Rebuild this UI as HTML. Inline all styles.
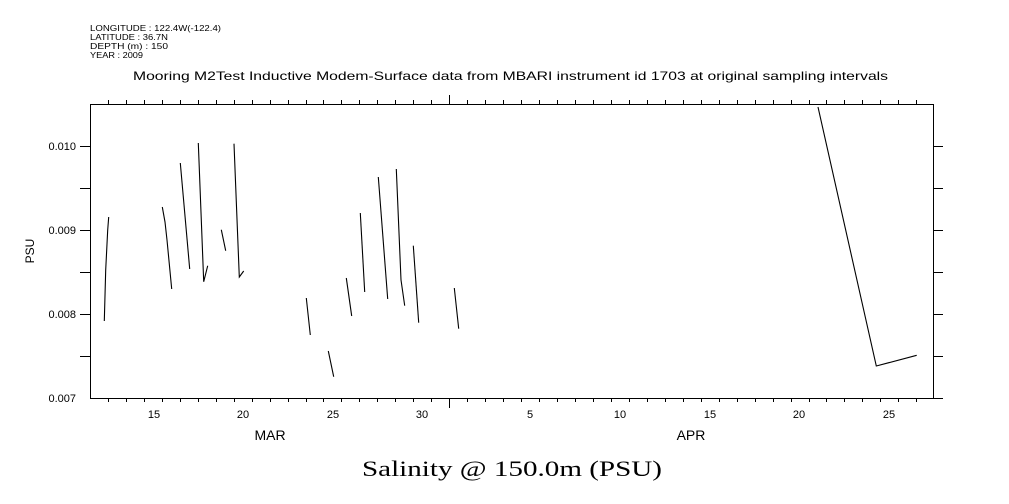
<!DOCTYPE html>
<html><head><meta charset="utf-8"><style>
html,body{margin:0;padding:0;background:#fff;}
svg{display:block;}
text{font-family:"Liberation Sans",sans-serif;fill:#000;}
</style></head><body>
<svg width="1009" height="504" viewBox="0 0 1009 504" xmlns="http://www.w3.org/2000/svg">
<g font-size="8.5">
<text x="90" y="31" textLength="131" lengthAdjust="spacingAndGlyphs">LONGITUDE : 122.4W(-122.4)</text>
<text x="90" y="40" textLength="78" lengthAdjust="spacingAndGlyphs">LATITUDE : 36.7N</text>
<text x="90" y="49" textLength="78" lengthAdjust="spacingAndGlyphs">DEPTH (m) : 150</text>
<text x="90" y="58" textLength="53" lengthAdjust="spacingAndGlyphs">YEAR : 2009</text>
</g>
<text x="133" y="80" font-size="12" textLength="755" lengthAdjust="spacingAndGlyphs">Mooring M2Test Inductive Modem-Surface data from MBARI instrument id 1703 at original sampling intervals</text>
<g stroke="#000" stroke-width="1" fill="none" shape-rendering="crispEdges">
<rect x="90.5" y="104.5" width="843" height="294"/>
<path d="
M108.5 100v4 M126.5 100v4 M144.5 100v4 M162.5 100v4 M180.5 100v4 M198.5 100v4 M216.5 100v4 M234.5 100v4 M252.5 100v4 M270.5 100v4 M288.5 100v4 M306.5 100v4 M323.5 100v4 M341.5 100v4 M359.5 100v4 M377.5 100v4 M395.5 100v4 M413.5 100v4 M431.5 100v4 M449.5 95v9 M467.5 100v4 M485.5 100v4 M503.5 100v4 M521.5 100v4 M539.5 100v4 M557.5 100v4 M575.5 100v4 M593.5 100v4 M611.5 100v4 M629.5 100v4 M647.5 100v4 M665.5 100v4 M683.5 100v4 M701.5 100v4 M719.5 100v4 M737.5 100v4 M755.5 100v4 M773.5 100v4 M791.5 100v4 M809.5 100v4 M826.5 100v4 M844.5 100v4 M862.5 100v4 M880.5 100v4 M898.5 100v4 M916.5 100v4
M108.5 398v4 M126.5 398v4 M144.5 398v4 M162.5 398v4 M180.5 398v4 M198.5 398v4 M216.5 398v4 M234.5 398v4 M252.5 398v4 M270.5 398v4 M288.5 398v4 M306.5 398v4 M323.5 398v4 M341.5 398v4 M359.5 398v4 M377.5 398v4 M395.5 398v4 M413.5 398v4 M431.5 398v4 M449.5 398v10 M467.5 398v4 M485.5 398v4 M503.5 398v4 M521.5 398v4 M539.5 398v4 M557.5 398v4 M575.5 398v4 M593.5 398v4 M611.5 398v4 M629.5 398v4 M647.5 398v4 M665.5 398v4 M683.5 398v4 M701.5 398v4 M719.5 398v4 M737.5 398v4 M755.5 398v4 M773.5 398v4 M791.5 398v4 M809.5 398v4 M826.5 398v4 M844.5 398v4 M862.5 398v4 M880.5 398v4 M898.5 398v4 M916.5 398v4
M80 146.5h10 M80 188.5h10 M80 230.5h10 M80 272.5h10 M80 314.5h10 M80 356.5h10
M934 146.5h9 M934 188.5h9 M934 230.5h9 M934 272.5h9 M934 314.5h9 M934 356.5h9 M934 398.5h9"/>
</g>
<g stroke="#000" stroke-width="1.1" fill="none">
<polyline points="104.3,321 105.7,270 107.7,230 108.7,217"/>
<polyline points="162.3,207 165,222 167,240 171.7,289"/>
<polyline points="180.3,163 189.7,269"/>
<polyline points="198.3,143 203.7,281.7 207.7,265.7"/>
<polyline points="221.3,229.7 225.7,250.7"/>
<polyline points="234,143.7 239.3,277 243.7,271"/>
<polyline points="306.3,298 310.3,335"/>
<polyline points="328.3,351 333.7,376.7"/>
<polyline points="346.3,278 351.7,316"/>
<polyline points="360.3,213 364.7,292"/>
<polyline points="378.3,177 387.7,299"/>
<polyline points="396.3,169 401,280 404.7,305.7"/>
<polyline points="413.3,245.7 418.7,322.7"/>
<polyline points="454.3,288 458.7,328.7"/>
<polyline points="818,107 876.3,366 916.7,355.3"/>
</g>
<g font-size="11" text-anchor="end">
<text x="76" y="150">0.010</text>
<text x="76" y="234">0.009</text>
<text x="76" y="318">0.008</text>
<text x="76" y="402">0.007</text>
</g>
<text x="34" y="251" font-size="12" text-anchor="middle" transform="rotate(-90 34 251)">PSU</text>
<g font-size="11" text-anchor="middle">
<text x="154" y="418">15</text><text x="243" y="418">20</text><text x="333" y="418">25</text><text x="422" y="418">30</text>
<text x="530" y="418">5</text><text x="620" y="418">10</text><text x="710" y="418">15</text><text x="799" y="418">20</text><text x="889" y="418">25</text>
</g>
<text x="270" y="440" font-size="14" text-anchor="middle">MAR</text>
<text x="691" y="440" font-size="14" text-anchor="middle">APR</text>
<text x="362" y="476" font-size="22" textLength="300" lengthAdjust="spacingAndGlyphs" style="font-family:'Liberation Serif',serif">Salinity @ 150.0m (PSU)</text>
</svg>
</body></html>
